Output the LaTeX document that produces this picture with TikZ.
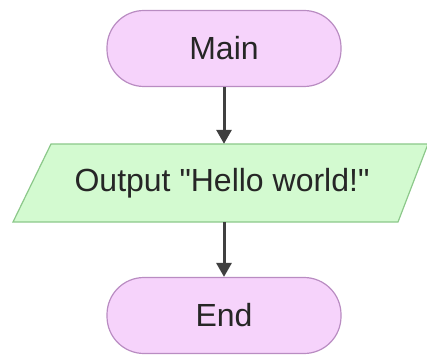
\documentclass[tikz,border=0pt]{standalone}
\usepackage{fontspec}
\setmainfont{Liberation Sans}[Ligatures=TeXOff]
\usetikzlibrary{arrows.meta}
\definecolor{termfill}{HTML}{F6D3FB}
\definecolor{termdraw}{HTML}{B98CC2}
\definecolor{iofill}{HTML}{D3FAD0}
\definecolor{iodraw}{HTML}{8CC88A}
\definecolor{arrowcol}{HTML}{404040}
\tikzset{
  term/.style={draw=termdraw, fill=termfill, line width=1.2pt, rounded corners=37pt,
    minimum width=234pt, minimum height=76pt, inner sep=0pt, text=black!85,
    font=\fontsize{32}{37}\selectfont},
  iobox/.style={draw=iodraw, fill=iofill, line width=1.2pt},
  iotext/.style={minimum width=300pt, minimum height=78pt, inner sep=0pt, text=black!85,
    font=\fontsize{32}{37}\selectfont},
  flow/.style={draw=arrowcol, line width=3pt, -{Triangle[length=14pt,width=15pt]}}
}
\begin{document}
\begin{tikzpicture}[x=1pt,y=1pt]
\useasboundingbox (0,0) rectangle (427,356);
\node[term] (main) at (224,307.5) {Main};
\draw[iobox] (51,212) -- (428,212) -- (398,134) -- (13,134) -- cycle;
\node[iotext] (out) at (222,173) {Output "Hello world!"};
\node[term] (end) at (224,40.5) {End};
\draw[flow] (main.south) -- (out.north -| main.south);
\draw[flow] (out.south -| main.south) -- (end.north);
\end{tikzpicture}
\end{document}
